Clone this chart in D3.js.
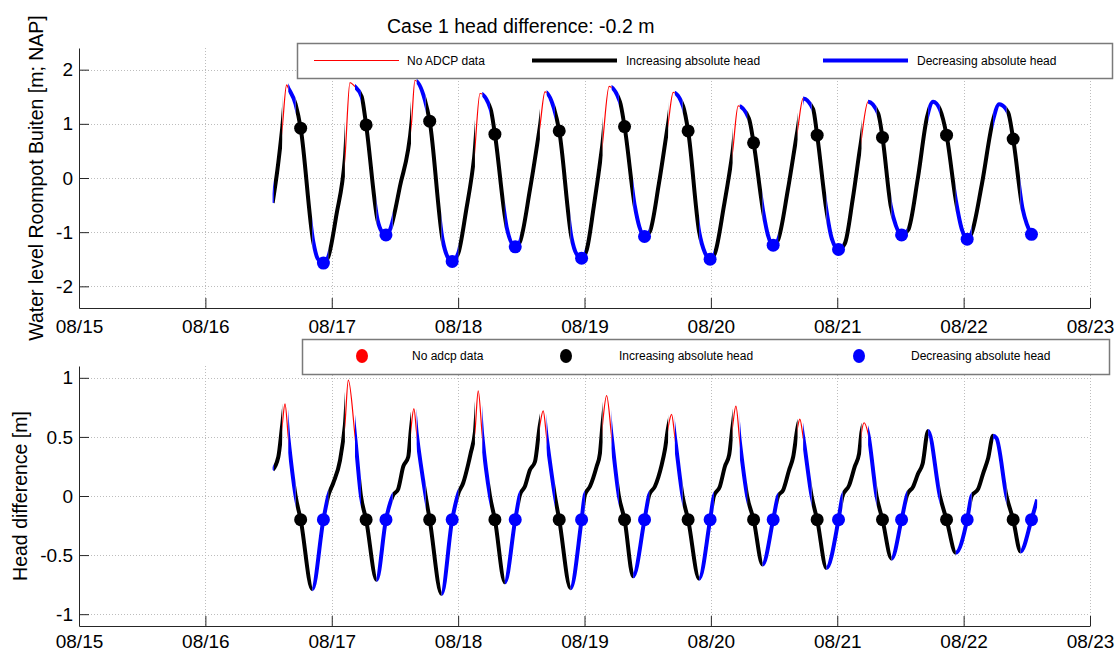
<!DOCTYPE html>
<html>
<head>
<meta charset="utf-8">
<script src="https://cdn.jsdelivr.net/npm/d3@7/dist/d3.min.js"></script>
<style>
  body { margin: 0; background: #fff; }
  svg text { font-family: "Liberation Sans", Arial, sans-serif; fill: #000; }
</style>
</head>
<body>
<svg id="chart" width="1117" height="651"></svg>
<script>
// ---- Data (time in days of August) ----
const dayTicks = [15, 16, 17, 18, 19, 20, 21, 22, 23];
const levelTicks = [-2, -1, 0, 1, 2];
const headTicks = [-1, -0.5, 0, 0.5, 1];

// Water level Roompot Buiten [m; NAP]
const levelTime = [
  16.532, 16.570, 16.608, 16.643, 16.656, 16.714, 16.754, 16.854, 16.887, 16.934, 16.972, 17.037,
  17.104, 17.144, 17.178, 17.237, 17.272, 17.363, 17.393, 17.429, 17.460, 17.540,
  17.632, 17.658, 17.737, 17.775, 17.877, 17.915, 17.953, 18.001, 18.062,
  18.127, 18.173, 18.257, 18.291, 18.370, 18.386, 18.452, 18.489, 18.568,
  18.647, 18.687, 18.758, 18.800, 18.898, 18.936, 18.977, 19.017, 19.074,
  19.140, 19.195, 19.280, 19.317, 19.399, 19.434, 19.475, 19.517, 19.589,
  19.662, 19.702, 19.781, 19.820, 19.907, 19.953, 19.994, 20.032, 20.103,
  20.172, 20.216, 20.301, 20.338, 20.414, 20.451, 20.493, 20.532, 20.609,
  20.686, 20.730, 20.809, 20.841, 20.910, 20.957, 21.010, 21.060, 21.123,
  21.184, 21.244, 21.324, 21.358, 21.422, 21.464, 21.509, 21.561, 21.638,
  21.711, 21.759, 21.812, 21.865, 21.938, 21.986, 22.028, 22.063, 22.144,
  22.233, 22.281, 22.352, 22.392, 22.466, 22.500, 22.537
];
const levelValue = [
  -0.46, 0.15, 0.92, 1.72, 1.66, 1.36, 0.92, -1.18, -1.48, -1.57, -1.46, -0.68,
  0.36, 1.76, 1.70, 1.50, 0.98, -0.78, -0.98, -1.05, -0.96, -0.15,
  1.04, 1.80, 1.44, 1.05, -1.14, -1.45, -1.54, -1.39, -0.62,
  0.39, 1.56, 1.27, 0.81, -0.71, -0.93, -1.27, -1.18, -0.22,
  0.95, 1.59, 1.29, 0.87, -1.11, -1.40, -1.48, -1.33, -0.52,
  0.59, 1.69, 1.41, 0.95, -0.53, -0.90, -1.08, -0.99, -0.10,
  1.01, 1.58, 1.32, 0.87, -0.99, -1.38, -1.50, -1.39, -0.52,
  0.49, 1.33, 1.10, 0.65, -0.62, -1.05, -1.24, -1.14, -0.22,
  0.89, 1.47, 1.27, 0.79, -0.53, -1.12, -1.32, -1.21, -0.38,
  0.61, 1.41, 1.19, 0.75, -0.50, -0.88, -1.05, -0.96, 0.00,
  1.13, 1.41, 1.27, 0.79, -0.41, -0.95, -1.13, -1.02, -0.12,
  1.07, 1.36, 1.21, 0.72, -0.56, -0.85, -1.04
];

// Head difference [m]
const headTime = [
  16.532, 16.577, 16.608, 16.630, 16.656, 16.714, 16.754, 16.846, 16.934, 16.972,
  17.012, 17.065, 17.104, 17.131, 17.184, 17.231, 17.272, 17.355, 17.429, 17.482,
  17.526, 17.566, 17.605, 17.627, 17.650, 17.672, 17.743, 17.775, 17.869, 17.953,
  18.001, 18.040, 18.080, 18.099, 18.133, 18.159, 18.191, 18.252, 18.291, 18.370, 18.452,
  18.489, 18.528, 18.568, 18.608, 18.647, 18.673, 18.700, 18.766, 18.800, 18.890, 18.977,
  19.003, 19.043, 19.096, 19.122, 19.143, 19.175, 19.214, 19.272, 19.317, 19.385, 19.475,
  19.512, 19.557, 19.610, 19.636, 19.662, 19.689, 19.715, 19.776, 19.820, 19.907, 19.994,
  20.024, 20.071, 20.111, 20.145, 20.172, 20.198, 20.229, 20.287, 20.338, 20.409, 20.493,
  20.532, 20.572, 20.619, 20.651, 20.686, 20.704, 20.730, 20.797, 20.841, 20.915, 21.010,
  21.042, 21.094, 21.139, 21.173, 21.192, 21.213, 21.244, 21.311, 21.358, 21.430, 21.509,
  21.553, 21.601, 21.640, 21.675, 21.719, 21.812, 21.865, 21.938, 22.028,
  22.063, 22.115, 22.154, 22.194, 22.233, 22.260, 22.339, 22.392, 22.450, 22.537, 22.582
];
const headValue = [
  0.22, 0.33, 0.60, 0.78, 0.50, 0.00, -0.20, -0.79, -0.20, 0.00,
  0.11, 0.30, 0.60, 0.98, 0.51, 0.00, -0.20, -0.71, -0.20, 0.00,
  0.06, 0.25, 0.33, 0.57, 0.74, 0.53, 0.00, -0.20, -0.83, -0.20,
  0.02, 0.11, 0.27, 0.36, 0.54, 0.89, 0.51, 0.00, -0.20, -0.73, -0.20,
  0.01, 0.08, 0.22, 0.29, 0.60, 0.72, 0.50, 0.00, -0.20, -0.78, -0.20,
  0.01, 0.08, 0.25, 0.36, 0.61, 0.85, 0.51, 0.00, -0.20, -0.68, -0.20,
  0.01, 0.08, 0.26, 0.39, 0.58, 0.69, 0.50, 0.00, -0.20, -0.70, -0.20,
  0.00, 0.08, 0.25, 0.35, 0.59, 0.76, 0.46, 0.00, -0.20, -0.58, -0.20,
  0.00, 0.05, 0.22, 0.33, 0.58, 0.65, 0.50, 0.00, -0.20, -0.61, -0.20,
  0.00, 0.09, 0.25, 0.36, 0.54, 0.62, 0.53, 0.00, -0.20, -0.53, -0.20,
  0.01, 0.08, 0.19, 0.27, 0.55, 0.00, -0.20, -0.48, -0.20,
  0.00, 0.06, 0.19, 0.32, 0.51, 0.49, 0.00, -0.20, -0.47, -0.20, -0.03
];

// Periods without ADCP data
const noDataStart = [16.608, 17.104, 17.627, 18.133, 18.647, 19.143, 19.662, 20.172, 20.686, 21.192];
const noDataEnd   = [16.656, 17.184, 17.672, 18.191, 18.700, 19.214, 19.715, 20.229, 20.730, 21.244];

// Periods of decreasing absolute head
const decreasingStart = [16.532, 16.656, 16.846, 17.184, 17.355, 17.672, 17.869, 18.191, 18.370, 18.700,
  18.890, 19.214, 19.385, 19.715, 19.907, 20.229, 20.409, 20.730, 20.915, 21.244, 21.430, 21.719,
  21.938, 22.233, 22.450];
const decreasingEnd = [16.542, 16.714, 16.972, 17.231, 17.482, 17.743, 18.001, 18.252, 18.489, 18.766,
  19.003, 19.272, 19.512, 19.776, 20.024, 20.287, 20.532, 20.797, 21.042, 21.311, 21.553, 21.812,
  22.063, 22.339, 22.582];

// Moments the head difference passes the threshold
const headThreshold = -0.2;
const increasingDotTime  = [16.754, 17.272, 17.775, 18.291, 18.800, 19.317, 19.820, 20.338, 20.841, 21.358, 21.865, 22.392];
const increasingDotLevel = [0.92, 0.98, 1.05, 0.81, 0.87, 0.95, 0.87, 0.65, 0.79, 0.75, 0.79, 0.72];
const decreasingDotTime  = [16.934, 17.429, 17.953, 18.452, 18.977, 19.475, 19.994, 20.493, 21.010, 21.509, 22.028, 22.537];
const decreasingDotLevel = [-1.57, -1.05, -1.54, -1.27, -1.48, -1.08, -1.50, -1.24, -1.32, -1.05, -1.13, -1.04];

const lineLegendLabels = ["No ADCP data", "Increasing absolute head", "Decreasing absolute head"];
const dotLegendLabels  = ["No adcp data", "Increasing absolute head", "Decreasing absolute head"];
const titleText = "Case 1 head difference: -0.2 m";

// ---- Drawing ----
const W = 1117, H = 651;
const RED = "#ff0000", BLACK = "#000000", BLUE = "#0000ff";
const svg = d3.select("#chart");
const x = d3.scaleLinear().domain([15, 23]).range([79, 1090]);

// Increasing-head periods are whatever is not marked as no-data or decreasing
const tStart = d3.min(levelTime.concat(headTime));
const tEnd = d3.max(levelTime.concat(headTime));
const marked = d3.zip(noDataStart, noDataEnd).concat(d3.zip(decreasingStart, decreasingEnd))
  .sort((a, b) => a[0] - b[0]);
const increasingStart = [], increasingEnd = [];
let cursor = tStart;
marked.forEach(([s, e]) => {
  if (s > cursor + 1e-9) { increasingStart.push(cursor); increasingEnd.push(s); }
  cursor = Math.max(cursor, e);
});
if (cursor < tEnd) { increasingStart.push(cursor); increasingEnd.push(tEnd); }

const defs = svg.append("defs");
function addClip(id, starts, ends) {
  defs.append("clipPath").attr("id", id)
    .selectAll("rect").data(d3.zip(starts, ends)).join("rect")
    .attr("x", d => x(d[0])).attr("width", d => x(d[1]) - x(d[0]))
    .attr("y", 0).attr("height", H);
}
addClip("clip-nodata", noDataStart, noDataEnd);
addClip("clip-increasing", increasingStart, increasingEnd);
addClip("clip-decreasing", decreasingStart, decreasingEnd);

const classes = [
  { clip: "clip-increasing", color: BLACK, width: 4 },
  { clip: "clip-decreasing", color: BLUE, width: 4 },
  { clip: "clip-nodata", color: RED, width: 1.2 }
];

function drawPanel(opt) {
  const y = d3.scaleLinear().domain(opt.domain).range([opt.bottom, opt.top]);
  const g = svg.append("g");

  // grid
  const grid = g.append("g").attr("stroke", "#bdbdbd").attr("stroke-width", 1)
    .attr("stroke-dasharray", "1,2");
  grid.selectAll("line.gy").data(opt.ticks).join("line")
    .attr("x1", x(15)).attr("x2", x(23))
    .attr("y1", d => Math.round(y(d)) + 0.5).attr("y2", d => Math.round(y(d)) + 0.5);
  grid.selectAll("line.gx").data(dayTicks.slice(1)).join("line")
    .attr("x1", d => Math.round(x(d)) + 0.5).attr("x2", d => Math.round(x(d)) + 0.5)
    .attr("y1", opt.top).attr("y2", opt.bottom);

  // series, drawn once per class and clipped to its periods
  const line = d3.line().x(d => x(d[0])).y(d => y(d[1])).curve(d3.curveMonotoneX);
  const pts = d3.zip(opt.time, opt.value);
  classes.forEach(c => {
    g.append("path").datum(pts)
      .attr("d", line).attr("fill", "none")
      .attr("stroke", c.color).attr("stroke-width", c.width)
      .attr("clip-path", `url(#${c.clip})`);
  });

  // threshold markers
  g.selectAll("circle.inc").data(d3.zip(increasingDotTime, opt.incLevel)).join("circle")
    .attr("cx", d => x(d[0])).attr("cy", d => y(d[1])).attr("r", 6.5).attr("fill", BLACK);
  g.selectAll("circle.dec").data(d3.zip(decreasingDotTime, opt.decLevel)).join("circle")
    .attr("cx", d => x(d[0])).attr("cy", d => y(d[1])).attr("r", 6.5).attr("fill", BLUE);

  // axes
  const ya = g.append("g").attr("transform", `translate(${x(15)},0)`)
    .call(d3.axisLeft(y).tickValues(opt.ticks).tickFormat(d => String(d))
      .tickSizeInner(-10).tickSizeOuter(0).tickPadding(6));
  const xa = g.append("g").attr("transform", `translate(0,${opt.bottom})`)
    .call(d3.axisBottom(x).tickValues(dayTicks).tickFormat(d => "08/" + d)
      .tickSizeInner(-10).tickSizeOuter(0).tickPadding(opt.xPad));
  [ya, xa].forEach(a => {
    a.select(".domain").attr("stroke", "#262626");
    a.selectAll(".tick line").attr("stroke", "#262626");
    a.selectAll("text").attr("font-size", 19).attr("fill", "#000")
      .attr("font-family", '"Liberation Sans", Arial, sans-serif');
  });
  xa.selectAll(".tick").filter(d => d === 15).select("line").remove();

  // y label
  svg.append("text")
    .attr("transform", `translate(${opt.labelX},${(opt.top + opt.bottom) / 2}) rotate(-90)`)
    .attr("text-anchor", "middle").attr("font-size", 19.5).text(opt.label);
}

drawPanel({
  top: 48, bottom: 308, domain: [-2.4, 2.4], ticks: levelTicks,
  time: levelTime, value: levelValue,
  incLevel: increasingDotLevel, decLevel: decreasingDotLevel,
  label: "Water level Roompot Buiten [m; NAP]", labelX: 43, xPad: 12
});
drawPanel({
  top: 366, bottom: 626, domain: [-1.1, 1.1], ticks: headTicks,
  time: headTime, value: headValue,
  incLevel: increasingDotTime.map(() => headThreshold),
  decLevel: decreasingDotTime.map(() => headThreshold),
  label: "Head difference [m]", labelX: 27, xPad: 9
});

// title
svg.append("text").attr("x", 387).attr("y", 33).attr("font-size", 19.5).text(titleText);

// legend with line samples
const lg1 = svg.append("g");
lg1.append("rect").attr("x", 297.5).attr("y", 43.5).attr("width", 815).attr("height", 35)
  .attr("fill", "#fff").attr("stroke", "#7a7a7a").attr("stroke-width", 1.5);
const lineSamples = [
  { x0: 314, x1: 399, tx: 407, color: RED, width: 1.2 },
  { x0: 532, x1: 617, tx: 626, color: BLACK, width: 4 },
  { x0: 823, x1: 908, tx: 917, color: BLUE, width: 4 }
];
lineSamples.forEach((s, i) => {
  lg1.append("line").attr("x1", s.x0).attr("x2", s.x1).attr("y1", 60.5).attr("y2", 60.5)
    .attr("stroke", s.color).attr("stroke-width", s.width);
  lg1.append("text").attr("x", s.tx).attr("y", 65).attr("font-size", 12).text(lineLegendLabels[i]);
});

// legend with marker samples
const lg2 = svg.append("g");
lg2.append("rect").attr("x", 302.5).attr("y", 339.5).attr("width", 807).attr("height", 35)
  .attr("fill", "#fff").attr("stroke", "#7a7a7a").attr("stroke-width", 1.5);
const dotSamples = [
  { cx: 362, tx: 412, color: RED },
  { cx: 566, tx: 619, color: BLACK },
  { cx: 859, tx: 911, color: BLUE }
];
dotSamples.forEach((s, i) => {
  lg2.append("ellipse").attr("cx", s.cx).attr("cy", 356).attr("rx", 6).attr("ry", 7)
    .attr("fill", s.color);
  lg2.append("text").attr("x", s.tx).attr("y", 360).attr("font-size", 12).text(dotLegendLabels[i]);
});
</script>
</body>
</html>
